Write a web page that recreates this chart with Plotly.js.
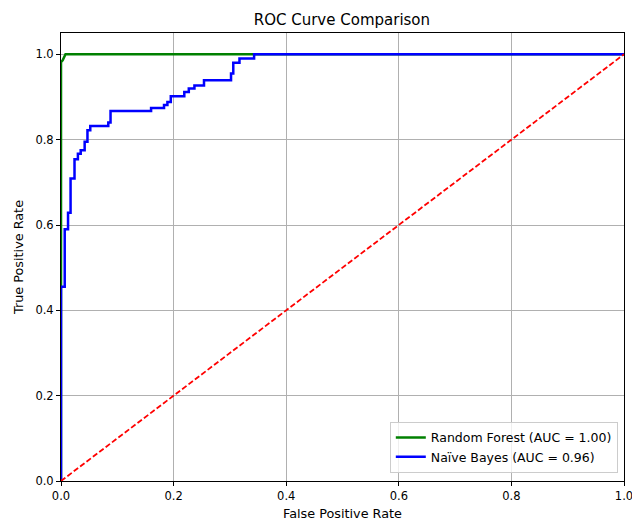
<!DOCTYPE html>
<html>
<head>
<meta charset="utf-8">
<script src="https://cdn.plot.ly/plotly-3.0.1.min.js"></script>
<style>html,body{margin:0;padding:0;background:#fff;}#chart{width:632px;height:522px;}</style>
</head>
<body>
<div id="chart"></div>
<script>
// Random Forest ROC points
var rfFpr = [0, 0, 0.003, 0.005, 0.008, 1.0];
var rfTpr = [0, 0.982, 0.986, 0.992, 1.0, 1.0];

// Naive Bayes ROC points (step curve)
var nbFpr = [0, 0, 0.0066, 0.0066, 0.0125, 0.0125, 0.017, 0.017, 0.024, 0.024, 0.030, 0.030, 0.035, 0.035, 0.042, 0.042, 0.047, 0.047, 0.052, 0.052, 0.084, 0.084, 0.088, 0.088, 0.160, 0.160, 0.183, 0.183, 0.189, 0.189, 0.195, 0.195, 0.219, 0.219, 0.227, 0.227, 0.237, 0.237, 0.254, 0.254, 0.302, 0.302, 0.306, 0.306, 0.317, 0.317, 0.343, 0.343, 1.0];
var nbTpr = [0, 0.455, 0.455, 0.59, 0.59, 0.629, 0.629, 0.709, 0.709, 0.754, 0.754, 0.767, 0.767, 0.775, 0.775, 0.795, 0.795, 0.822, 0.822, 0.832, 0.832, 0.840, 0.840, 0.867, 0.867, 0.874, 0.874, 0.881, 0.881, 0.888, 0.888, 0.902, 0.902, 0.912, 0.912, 0.920, 0.920, 0.927, 0.927, 0.939, 0.939, 0.955, 0.955, 0.980, 0.980, 0.990, 0.990, 1.0, 1.0];

var diagX = [0, 1];
var diagY = [0, 1];

var names = ["Random Forest (AUC = 1.00)", "Naïve Bayes (AUC = 0.96)"];
var tickVals = [0, 0.2, 0.4, 0.6, 0.8, 1.0];
var tickText = ["0.0", "0.2", "0.4", "0.6", "0.8", "1.0"];

var font = "DejaVu Sans, sans-serif";

var traces = [
  {x: rfFpr, y: rfTpr, mode: "lines", name: names[0], line: {color: "green", width: 2.5}},
  {x: nbFpr, y: nbTpr, mode: "lines", name: names[1], line: {color: "blue", width: 2.5}},
  {x: diagX, y: diagY, mode: "lines", showlegend: false, line: {color: "red", width: 1.8, dash: "5.5px,2.5px"}}
];

var axisCommon = {
  showline: true, mirror: true, linecolor: "black", linewidth: 1,
  ticks: "outside", ticklen: 4, tickcolor: "black",
  showgrid: true, gridcolor: "#b0b0b0", gridwidth: 1,
  zeroline: false,
  tickvals: tickVals, ticktext: tickText,
  ticklabeloverflow: "allow",
  tickfont: {family: font, size: 11.5, color: "black"}
};

var layout = {
  width: 632, height: 522,
  margin: {l: 61, r: 8, t: 33, b: 41},
  paper_bgcolor: "white", plot_bgcolor: "white",
  font: {family: font, color: "black"},
  title: {text: "ROC Curve Comparison", font: {family: font, size: 15, color: "black"}, x: 0.541, xanchor: "center", y: 0.962, yanchor: "middle"},
  xaxis: Object.assign({}, axisCommon, {range: [0, 1], title: {text: "False Positive Rate", font: {family: font, size: 12.8, color: "black"}, standoff: 7}}),
  yaxis: Object.assign({}, axisCommon, {range: [0, 1.05], title: {text: "True Positive Rate", font: {family: font, size: 12.8, color: "black"}, standoff: 8}}),
  legend: {x: 0.989, y: 0.018, xanchor: "right", yanchor: "bottom", bgcolor: "rgba(255,255,255,0.8)", bordercolor: "#cccccc", borderwidth: 1, itemwidth: 30, font: {family: font, size: 12.5, color: "black"}},
  showlegend: true
};

Plotly.newPlot("chart", traces, layout, {displayModeBar: false, staticPlot: true});
</script>
</body>
</html>
